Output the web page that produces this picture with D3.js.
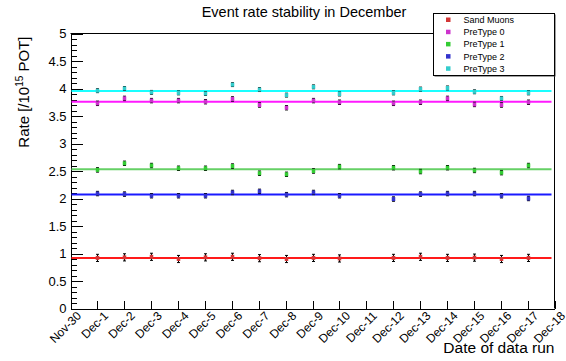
<!DOCTYPE html>
<html>
<head>
<meta charset="utf-8">
<script src="https://cdn.jsdelivr.net/npm/d3@7"></script>
<style>
  body { margin: 0; background: #fff; }
  text { font-family: "Liberation Sans", Arial, sans-serif; }
</style>
</head>
<body>
<div id="chart"></div>
<script>
// tick labels along the date axis
const dayTicks = ['Nov-30', 'Dec-1', 'Dec-2', 'Dec-3', 'Dec-4', 'Dec-5', 'Dec-6', 'Dec-7', 'Dec-8', 'Dec-9',
                  'Dec-10', 'Dec-11', 'Dec-12', 'Dec-13', 'Dec-14', 'Dec-15', 'Dec-16', 'Dec-17', 'Dec-18'];
// days with data (no run on Dec-11)
const runDays = ['Dec-1', 'Dec-2', 'Dec-3', 'Dec-4', 'Dec-5', 'Dec-6', 'Dec-7', 'Dec-8', 'Dec-9',
                 'Dec-10', 'Dec-12', 'Dec-13', 'Dec-14', 'Dec-15', 'Dec-16', 'Dec-17'];

const seriesNames = ['Sand Muons', 'PreType 0', 'PreType 1', 'PreType 2', 'PreType 3'];

const sandMuons = [0.92, 0.93, 0.94, 0.90, 0.93, 0.94, 0.915, 0.90, 0.92, 0.91, 0.92, 0.94, 0.92, 0.925, 0.90, 0.92];
const preType0  = [3.73, 3.82, 3.78, 3.78, 3.76, 3.81, 3.70, 3.65, 3.78, 3.75, 3.73, 3.75, 3.82, 3.71, 3.70, 3.75];
const preType1  = [2.52, 2.64, 2.60, 2.55, 2.55, 2.59, 2.46, 2.44, 2.50, 2.58, 2.56, 2.49, 2.56, 2.51, 2.47, 2.60];
const preType2  = [2.09, 2.08, 2.05, 2.05, 2.05, 2.11, 2.13, 2.07, 2.11, 2.05, 1.99, 2.08, 2.09, 2.09, 2.05, 2.00];
const preType3  = [3.96, 4.00, 3.93, 3.92, 3.91, 4.07, 3.98, 3.88, 4.03, 3.90, 3.92, 3.99, 4.01, 3.94, 3.82, 3.92];

// fitted constant for each series, and a typical error bar half-width
const fitValues = [0.92, 3.757, 2.533, 2.073, 3.956];
const seriesErr = [0.065, 0.04, 0.04, 0.04, 0.035];

const yTicks = [0, 0.5, 1, 1.5, 2, 2.5, 3, 3.5, 4, 4.5, 5];

const markerColors = ['#d33636', '#cc33cc', '#33cc33', '#3333cc', '#33cccc'];
const lineColors = ['#ff1a1a', '#ff1aff', '#66d066', '#1a1aff', '#1affff'];

const allSeries = [sandMuons, preType0, preType1, preType2, preType3];

const width = 566, height = 361;
const margin = {left: 70.5, right: 11.5, top: 33.5, bottom: 52.5};

const svg = d3.select('#chart').append('svg').attr('width', width).attr('height', height);

const x = d3.scalePoint()
    .domain(dayTicks)
    .range([margin.left, width - margin.right]);

const y = d3.scaleLinear()
    .domain([0, 5])
    .range([height - margin.bottom, margin.top]);

// frame top/right
svg.append('line').attr('x1', margin.left).attr('x2', width - margin.right)
    .attr('y1', margin.top).attr('y2', margin.top).attr('stroke', '#000');
svg.append('line').attr('x1', width - margin.right).attr('x2', width - margin.right)
    .attr('y1', margin.top).attr('y2', height - margin.bottom).attr('stroke', '#000');

// y axis: minor ticks every 0.1, majors every 0.5
const yMinor = d3.axisLeft(y).tickValues(d3.range(0, 51).map(d => d / 10))
    .tickSize(-6).tickFormat('').tickSizeOuter(0);
svg.append('g').attr('transform', 'translate(' + margin.left + ',0)').call(yMinor);

const yAxis = d3.axisLeft(y).tickValues(yTicks).tickSize(-12.5).tickSizeOuter(0)
    .tickPadding(4).tickFormat(d3.format('~g'));
const gy = svg.append('g').attr('transform', 'translate(' + margin.left + ',0)').call(yAxis);
gy.selectAll('text').attr('font-size', 13).attr('font-family', 'Liberation Sans, Arial, sans-serif');

const xAxis = d3.axisBottom(x).tickSize(-8).tickSizeOuter(0);
const gx = svg.append('g').attr('transform', 'translate(0,' + (height - margin.bottom) + ')').call(xAxis);
gx.selectAll('text')
    .attr('font-size', 12)
    .attr('font-family', 'Liberation Sans, Arial, sans-serif')
    .attr('text-anchor', 'end')
    .attr('dy', 0).attr('y', 0)
    .attr('transform', 'translate(11,8) rotate(-45)');

svg.selectAll('.domain, .tick line').attr('stroke', '#000').attr('shape-rendering', 'crispEdges');

// fit lines
svg.append('g').selectAll('line')
    .data(fitValues)
    .join('line')
    .attr('x1', x.range()[0] + 1)
    .attr('x2', x.range()[1] - 3)
    .attr('y1', d => y(d)).attr('y2', d => y(d))
    .attr('stroke', (d, i) => lineColors[i])
    .attr('stroke-width', 2);

// points with error bars
allSeries.forEach((vals, s) => {
    const g = svg.append('g');
    const pts = vals.map((v, i) => ({day: runDays[i], v: v, e: seriesErr[s]}));
    g.selectAll('path.err').data(pts).join('path')
        .attr('class', 'err')
        .attr('d', d => {
            const cx = Math.round(x(d.day)) + 0.5;
            const y0 = y(d.v - d.e), y1 = y(d.v + d.e);
            return 'M' + cx + ',' + y0 + 'V' + y1 +
                   'M' + (cx - 1.5) + ',' + y0 + 'H' + (cx + 1.5) +
                   'M' + (cx - 1.5) + ',' + y1 + 'H' + (cx + 1.5);
        })
        .attr('stroke', '#000').attr('stroke-width', 1).attr('fill', 'none');
    g.selectAll('rect').data(pts).join('rect')
        .attr('x', d => Math.round(x(d.day)) + 0.5 - 1.75)
        .attr('y', d => y(d.v) - 2)
        .attr('width', 3.5).attr('height', 4)
        .attr('fill', markerColors[s]);
});

// titles
svg.append('text').attr('x', 304).attr('y', 17)
    .attr('text-anchor', 'middle').attr('font-size', 14.5)
    .text('Event rate stability in December');

svg.append('text').attr('x', width - margin.right).attr('y', 353)
    .attr('text-anchor', 'end').attr('font-size', 15.5)
    .text('Date of data run');

const yl = svg.append('text')
    .attr('transform', 'translate(29,' + (margin.top + 3) + ') rotate(-90)')
    .attr('text-anchor', 'end').attr('font-size', 15);
yl.append('tspan').text('Rate [/10');
yl.append('tspan').attr('font-size', 10).attr('dy', -6).text('15');
yl.append('tspan').attr('dy', 6).text(' POT]');

// legend
const lg = svg.append('g').attr('transform', 'translate(433.5,13.5)');
lg.append('rect').attr('x', 1).attr('y', 1).attr('width', 121).attr('height', 62).attr('fill', '#444');
lg.append('rect').attr('width', 121).attr('height', 62).attr('fill', '#fff').attr('stroke', '#000');
const rows = lg.selectAll('g.row').data(seriesNames).join('g')
    .attr('class', 'row')
    .attr('transform', (d, i) => 'translate(0,' + (6 + i * 12.2) + ')');
rows.append('rect').attr('x', 12.5).attr('y', -2).attr('width', 4.5).attr('height', 4.5)
    .attr('fill', (d, i) => markerColors[i]);
rows.append('text').attr('x', 30).attr('y', 3.5).attr('font-size', 9).text(d => d);
</script>
</body>
</html>
